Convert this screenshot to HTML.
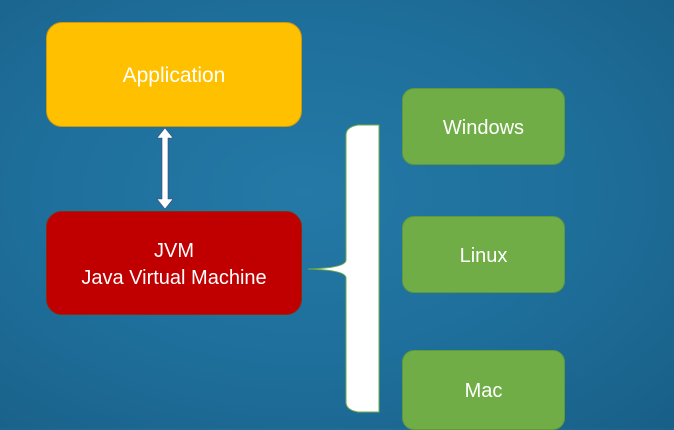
<!DOCTYPE html>
<html><head><style>
body{margin:0;width:674px;height:428px;overflow:hidden;position:relative;
background:radial-gradient(ellipse at 45% 45%,#2479a6 0%,#1e6e9a 55%,#185f87 100%);
font-family:"Liberation Sans",sans-serif;color:#fff}
.b{position:absolute;display:flex;align-items:center;justify-content:center;text-align:center;border-radius:16px;box-sizing:border-box;padding-top:3px}
.app{left:46px;top:22px;width:256px;height:105px;background:#ffc000;font-size:21px;border:1px solid #c99a10}
.jvm{left:46px;top:211px;width:256px;height:104px;background:#c00000;font-size:20px;line-height:27px;border:1px solid #8a2a10}
.g{left:402px;width:163px;height:77px;background:#70ad47;font-size:20px;border-radius:12px;border:1px solid #5d9a3a}
</style></head><body>
<div class="b app">Application</div>
<div class="b jvm">JVM<br>Java Virtual Machine</div>
<div class="b g" style="top:88px">Windows</div>
<div class="b g" style="top:216px">Linux</div>
<div class="b g" style="top:350px;height:80px">Mac</div>
<svg width="674" height="428" style="position:absolute;left:0;top:0">
<path d="M165 128 L157 138 L162 138 L162 199 L157 199 L165 209 L173 199 L168 199 L168 138 L173 138 Z" fill="#fff" stroke="#3a4a7a" stroke-width="0.6"/>
<path d="M379 125 L358 125 Q346 127 346 135 L346 260 Q346 268 308 269 Q346 270 346 278 L346 402 Q346 410 358 412 L379 412 Z" fill="#fff" stroke="#70ad47" stroke-width="1"/>
</svg>
</body></html>
